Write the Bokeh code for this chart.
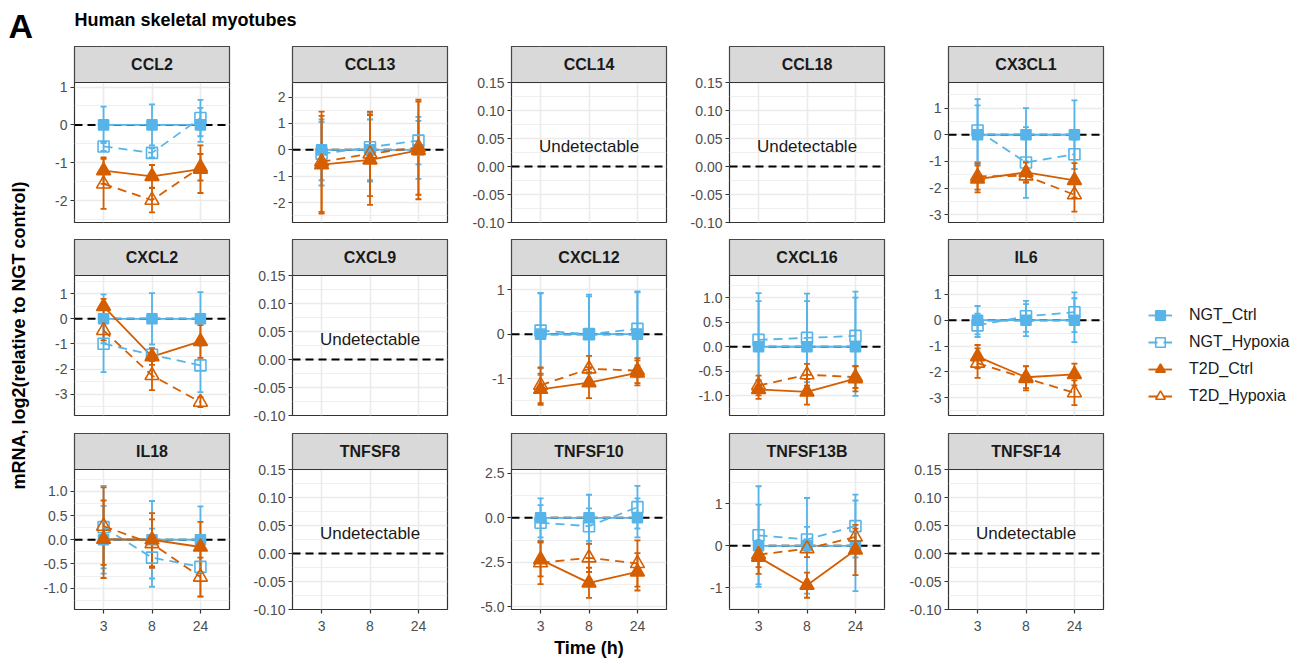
import math
from bokeh.plotting import figure
from bokeh.models import (Range1d, FixedTicker, NumeralTickFormatter, Span, Label,
                          Legend, LegendItem, ColumnDataSource)
from bokeh.layouts import row, column
from bokeh.embed import file_html
from bokeh.resources import INLINE
from bokeh.core.properties import value

# ---------------- data ----------------
TIMES = ["3", "8", "24"]
GROUPS = ["NGT_Ctrl", "NGT_Hypoxia", "T2D_Ctrl", "T2D_Hypoxia"]
GENE_ROWS = [["CCL2", "CCL13", "CCL14", "CCL18", "CX3CL1"],
             ["CXCL2", "CXCL9", "CXCL12", "CXCL16", "IL6"],
             ["IL18", "TNFSF8", "TNFSF10", "TNFSF13B", "TNFSF14"]]
UNDETECTABLE = ["CCL14", "CCL18", "CXCL9", "TNFSF8", "TNFSF14"]

# rows = GROUPS, columns = TIMES
CCL2_MEAN = [[0, 0, 0], [-0.57, -0.74, 0.18], [-1.21, -1.36, -1.17], [-1.56, -1.99, -1.12]]
CCL2_SEM = [[0.48, 0.54, 0.45], [0.12, 0.12, 0.48], [0.35, 0.30, 0.63], [0.66, 0.32, 0.35]]
CCL13_MEAN = [[0, 0, 0], [-0.15, 0.10, 0.35], [-0.56, -0.38, -0.02], [-0.45, -0.15, 0.10]]
CCL13_SEM = [[1.15, 1.15, 1.10], [1.20, 1.30, 0.90], [1.85, 1.70, 1.85], [1.90, 1.60, 1.80]]
CX3CL1_MEAN = [[0, 0, 0], [0.16, -1.04, -0.73], [-1.66, -1.41, -1.71], [-1.56, -1.54, -2.25]]
CX3CL1_SEM = [[1.10, 1.00, 1.29], [1.18, 1.33, 0.55], [0.50, 0.37, 0.65], [0.50, 0.25, 0.63]]
CXCL2_MEAN = [[0, 0, 0], [-0.99, -1.43, -1.85], [0.49, -1.50, -0.90], [-0.46, -2.25, -3.31]]
CXCL2_SEM = [[0.97, 1.02, 1.06], [1.13, 0.25, 1.06], [0.30, 0.33, 0.65], [0.40, 0.58, 0.20]]
CXCL12_MEAN = [[0, 0, 0], [0.08, 0.00, 0.12], [-1.24, -1.09, -0.87], [-1.15, -0.78, -0.82]]
CXCL12_SEM = [[0.92, 0.89, 0.96], [0.85, 0.85, 0.82], [0.35, 0.35, 0.28], [0.40, 0.29, 0.28]]
CXCL16_MEAN = [[0, 0, 0], [0.14, 0.18, 0.22], [-0.87, -0.92, -0.65], [-0.79, -0.57, -0.62]]
CXCL16_SEM = [[0.93, 0.93, 1.00], [0.95, 0.90, 0.90], [0.19, 0.26, 0.26], [0.20, 0.22, 0.22]]
IL6_MEAN = [[0, 0, 0], [-0.20, 0.15, 0.31], [-1.41, -2.21, -2.10], [-1.66, -2.25, -2.81]]
IL6_SEM = [[0.55, 0.62, 0.85], [0.45, 0.60, 0.77], [0.45, 0.42, 0.42], [0.57, 0.47, 0.48]]
IL18_MEAN = [[0, 0, 0], [0.26, -0.37, -0.56], [0.01, 0.00, -0.15], [0.28, -0.08, -0.77]]
IL18_SEM = [[0.70, 0.80, 0.69], [0.85, 0.60, 0.62], [0.80, 0.55, 0.52], [0.80, 0.50, 0.40]]
TNFSF10_MEAN = [[0, 0, 0], [-0.28, -0.47, 0.60], [-2.35, -3.66, -3.04], [-2.53, -2.25, -2.57]]
TNFSF10_SEM = [[1.10, 1.30, 1.10], [1.00, 1.00, 1.20], [0.95, 0.85, 1.05], [1.20, 0.80, 1.30]]
TNFSF13B_MEAN = [[0, 0, 0], [0.25, 0.15, 0.47], [-0.27, -0.94, -0.10], [-0.21, -0.07, 0.21]]
TNFSF13B_SEM = [[0.98, 1.14, 1.08], [1.17, 0.30, 0.75], [0.40, 0.30, 0.60], [0.30, 0.20, 0.20]]

MEANS = {"CCL2": CCL2_MEAN, "CCL13": CCL13_MEAN, "CX3CL1": CX3CL1_MEAN, "CXCL2": CXCL2_MEAN,
         "CXCL12": CXCL12_MEAN, "CXCL16": CXCL16_MEAN, "IL6": IL6_MEAN, "IL18": IL18_MEAN,
         "TNFSF10": TNFSF10_MEAN, "TNFSF13B": TNFSF13B_MEAN}
SEMS = {"CCL2": CCL2_SEM, "CCL13": CCL13_SEM, "CX3CL1": CX3CL1_SEM, "CXCL2": CXCL2_SEM,
        "CXCL12": CXCL12_SEM, "CXCL16": CXCL16_SEM, "IL6": IL6_SEM, "IL18": IL18_SEM,
        "TNFSF10": TNFSF10_SEM, "TNFSF13B": TNFSF13B_SEM}

# axis limits / ticks per panel
UND_LIM = (-0.10, 0.15)
UND_TICKS = [-0.10, -0.05, 0.00, 0.05, 0.10, 0.15]
YLIMS = {"CCL2": (-2.58, 1.12), "CCL13": (-2.75, 2.55), "CX3CL1": (-3.29, 1.96),
         "CXCL2": (-3.84, 1.72), "CXCL12": (-1.83, 1.32), "CXCL16": (-1.40, 1.45),
         "IL6": (-3.69, 1.73), "IL18": (-1.44, 1.45), "TNFSF10": (-5.16, 2.72),
         "TNFSF13B": (-1.52, 1.82)}
YTICKS = {"CCL2": [-2, -1, 0, 1], "CCL13": [-2, -1, 0, 1, 2], "CX3CL1": [-3, -2, -1, 0, 1],
          "CXCL2": [-3, -2, -1, 0, 1], "CXCL12": [-1, 0, 1], "CXCL16": [-1.0, -0.5, 0.0, 0.5, 1.0],
          "IL6": [-3, -2, -1, 0, 1], "IL18": [-1.0, -0.5, 0.0, 0.5, 1.0],
          "TNFSF10": [-5.0, -2.5, 0.0, 2.5], "TNFSF13B": [-1, 0, 1]}
YFMT = {"CXCL16": "0.0", "IL18": "0.0", "TNFSF10": "0.0"}

# ---------------- style ----------------
FONT = "Liberation Sans"
BLUE = "#56B4E9"
ORANGE = "#D55E00"
HYP_DASH = "9 6"
STYLE = {
    "NGT_Ctrl": dict(color=BLUE, dash="solid", marker="square", fill=BLUE, size=10),
    "NGT_Hypoxia": dict(color=BLUE, dash=HYP_DASH, marker="square", fill=None, size=11),
    "T2D_Ctrl": dict(color=ORANGE, dash="solid", marker="triangle", fill=ORANGE, size=14),
    "T2D_Hypoxia": dict(color=ORANGE, dash=HYP_DASH, marker="triangle", fill=None, size=14),
}
COL_W = [214, 219, 218, 219, 218]
COL_LEFT = [44, 48, 48, 48, 48]
ROW_H = [193, 194, 229]
FRAME_W = 155
FRAME_H = 176
STRIP_H = 36
PLOT_H = FRAME_H - STRIP_H
TOP = 2
X = [i + 1 for i in range(len(TIMES))]
XPAD = 0.6
TICK_FS = "14px"


def minor_ticks(ticks, lo, hi):
    step = ticks[1] - ticks[0]
    cands = [ticks[0] - step / 2] + [t + step / 2 for t in ticks]
    return [c for c in cands if lo - 1e-9 <= c <= hi + 1e-9]


def panel(gene, ci, ri):
    w, h, left = COL_W[ci], ROW_H[ri], COL_LEFT[ci]
    bottom = ri == len(ROW_H) - 1
    und = gene in UNDETECTABLE
    ymin, ymax = UND_LIM if und else YLIMS[gene]
    ticks = UND_TICKS if und else YTICKS[gene]
    fmt = "0.00" if und else YFMT.get(gene, "0")
    ytop = ymax + (ymax - ymin) * STRIP_H / PLOT_H
    x0, x1 = X[0] - XPAD, X[-1] + XPAD

    p = figure(width=w, height=h, output_backend="svg", toolbar_location=None, title=None,
               x_range=Range1d(x0, x1), y_range=Range1d(ymin, ytop),
               x_axis_location="below" if bottom else None,
               min_border_left=left, min_border_right=w - left - FRAME_W,
               min_border_top=TOP, min_border_bottom=h - TOP - FRAME_H)
    p.background_fill_color = "white"
    p.border_fill_color = "white"
    p.outline_line_color = "#333333"
    p.outline_line_width = 1.2

    # grid
    p.xgrid.ticker = FixedTicker(ticks=X)
    p.xgrid.grid_line_color = "#EBEBEB"
    p.xgrid.grid_line_width = 1.6
    p.ygrid.ticker = FixedTicker(ticks=ticks, minor_ticks=minor_ticks(ticks, ymin, ymax))
    p.ygrid.grid_line_color = "#EBEBEB"
    p.ygrid.grid_line_width = 1.6
    p.ygrid.minor_grid_line_color = "#EBEBEB"
    p.ygrid.minor_grid_line_width = 0.8

    # y axis
    ya = p.yaxis[0]
    ya.ticker = FixedTicker(ticks=ticks)
    ya.formatter = NumeralTickFormatter(format=fmt)
    ya.axis_line_color = None
    ya.major_tick_line_color = "#333333"
    ya.major_tick_line_width = 1.2
    ya.major_tick_out = 4
    ya.major_tick_in = 0
    ya.minor_tick_line_color = None
    ya.major_label_text_font = FONT
    ya.major_label_text_font_size = TICK_FS
    ya.major_label_text_color = "#4D4D4D"
    ya.major_label_standoff = 3

    if bottom:
        xa = p.xaxis[0]
        xa.ticker = FixedTicker(ticks=X)
        xa.major_label_overrides = {x: t for x, t in zip(X, TIMES)}
        xa.axis_line_color = None
        xa.major_tick_line_color = "#333333"
        xa.major_tick_line_width = 1.2
        xa.major_tick_out = 4
        xa.major_tick_in = 0
        xa.minor_tick_line_color = None
        xa.major_label_text_font = FONT
        xa.major_label_text_font_size = TICK_FS
        xa.major_label_text_color = "#4D4D4D"
        xa.major_label_standoff = 7
        xa.axis_label = "Time (h)" if ci == 2 else " "
        xa.axis_label_text_font = FONT
        xa.axis_label_text_font_size = "18px"
        xa.axis_label_text_font_style = "bold"
        xa.axis_label_text_color = "black"
        xa.axis_label_standoff = 4

    # zero reference line
    p.add_layout(Span(location=0, dimension="width", line_color="black", line_width=2,
                      line_dash="8 5", level="underlay"))

    # strip
    p.quad(left=[x0], right=[x1], bottom=[ymax], top=[ytop], fill_color="#D9D9D9",
           line_color="#333333", line_width=1.2)
    p.text(x=[(x0 + x1) / 2], y=[(ymax + ytop) / 2], text=[gene], text_font=value(FONT),
           text_font_style="bold", text_font_size="16px", text_align="center",
           text_baseline="middle", text_color="#1A1A1A")

    if und:
        p.text(x=[(x0 + x1) / 2], y=[0.036], text=["Undetectable"], text_font=value(FONT),
               text_font_size="17px", text_align="center", text_baseline="middle",
               text_color="#1A1A1A")
        return p

    sources = []
    for gi, g in enumerate(GROUPS):
        m = MEANS[gene][gi]
        s = SEMS[gene][gi]
        sources.append(ColumnDataSource(dict(
            x=X, y=m, lo=[a - b for a, b in zip(m, s)], hi=[a + b for a, b in zip(m, s)])))
    # error bars
    for g, src in zip(GROUPS, sources):
        st = STYLE[g]
        p.segment(x0="x", y0="lo", x1="x", y1="hi", source=src, line_color=st["color"],
                  line_width=1.8)
        p.scatter(x="x", y="lo", source=src, marker="dash", size=6, line_color=st["color"],
                  line_width=1.8)
        p.scatter(x="x", y="hi", source=src, marker="dash", size=6, line_color=st["color"],
                  line_width=1.8)
    # lines
    for g, src in zip(GROUPS, sources):
        st = STYLE[g]
        p.line(x="x", y="y", source=src, line_color=st["color"], line_width=1.8,
               line_dash=st["dash"])
    # points
    for g, src in zip(GROUPS, sources):
        st = STYLE[g]
        p.scatter(x="x", y="y", source=src, marker=st["marker"], size=st["size"],
                  line_color=st["color"], fill_color=st["fill"], line_width=1.6)
    return p


def blank(w, h):
    f = figure(width=w, height=h, output_backend="svg", toolbar_location=None, title=None,
               x_axis_location=None, y_axis_location=None, min_border=0,
               x_range=Range1d(0, 1), y_range=Range1d(0, 1))
    f.outline_line_color = None
    f.grid.visible = False
    f.background_fill_color = "white"
    f.border_fill_color = "white"
    return f


grid_rows = []
for ri, genes in enumerate(GENE_ROWS):
    grid_rows.append(row(*[panel(g, ci, ri) for ci, g in enumerate(genes)]))
grid = column(*grid_rows)

total_h = sum(ROW_H)
HEADER_H = 44
TOTAL_W = 1296
YLAB_W = 30
LEG_W = TOTAL_W - YLAB_W - sum(COL_W)

header = blank(TOTAL_W, HEADER_H)
header.add_layout(Label(x=8, y=19, x_units="screen", y_units="screen", text="A",
                        text_font=FONT, text_font_size="34px", text_font_style="bold",
                        text_baseline="middle", text_color="black"))
header.add_layout(Label(x=74, y=25, x_units="screen", y_units="screen",
                        text="Human skeletal myotubes", text_font=FONT,
                        text_font_size="18px", text_font_style="bold",
                        text_baseline="middle", text_color="black"))

ylab = blank(YLAB_W, total_h)
ylab.add_layout(Label(x=18, y=total_h - (335 - HEADER_H), x_units="screen", y_units="screen",
                      text="mRNA, log2(relative to NGT control)", angle=math.pi / 2,
                      text_font=FONT, text_font_size="18px", text_font_style="bold",
                      text_align="center", text_baseline="middle", text_color="black"))

leg = blank(LEG_W, total_h)
NAN = float("nan")
items = []
for g in GROUPS:
    st = STYLE[g]
    r1 = leg.line(x=[NAN], y=[NAN], line_color=st["color"], line_width=1.8,
                  line_dash=st["dash"])
    r2 = leg.scatter(x=[NAN], y=[NAN], marker=st["marker"], size=10, line_color=st["color"],
                     fill_color=st["fill"], line_width=1.6)
    items.append(LegendItem(label=g, renderers=[r1, r2]))
legend = Legend(items=items, location=(30, total_h + HEADER_H - 409), glyph_width=24,
                glyph_height=26, label_height=26, spacing=1, padding=0, margin=0,
                label_standoff=17, label_text_font=FONT, label_text_font_size="16px",
                label_text_color="#1A1A1A", border_line_color=None, background_fill_alpha=0)
leg.add_layout(legend, "center")

layout = column(header, row(ylab, grid, leg))
open("out.html", "w").write(file_html(layout, INLINE, title="Human skeletal myotubes"))
